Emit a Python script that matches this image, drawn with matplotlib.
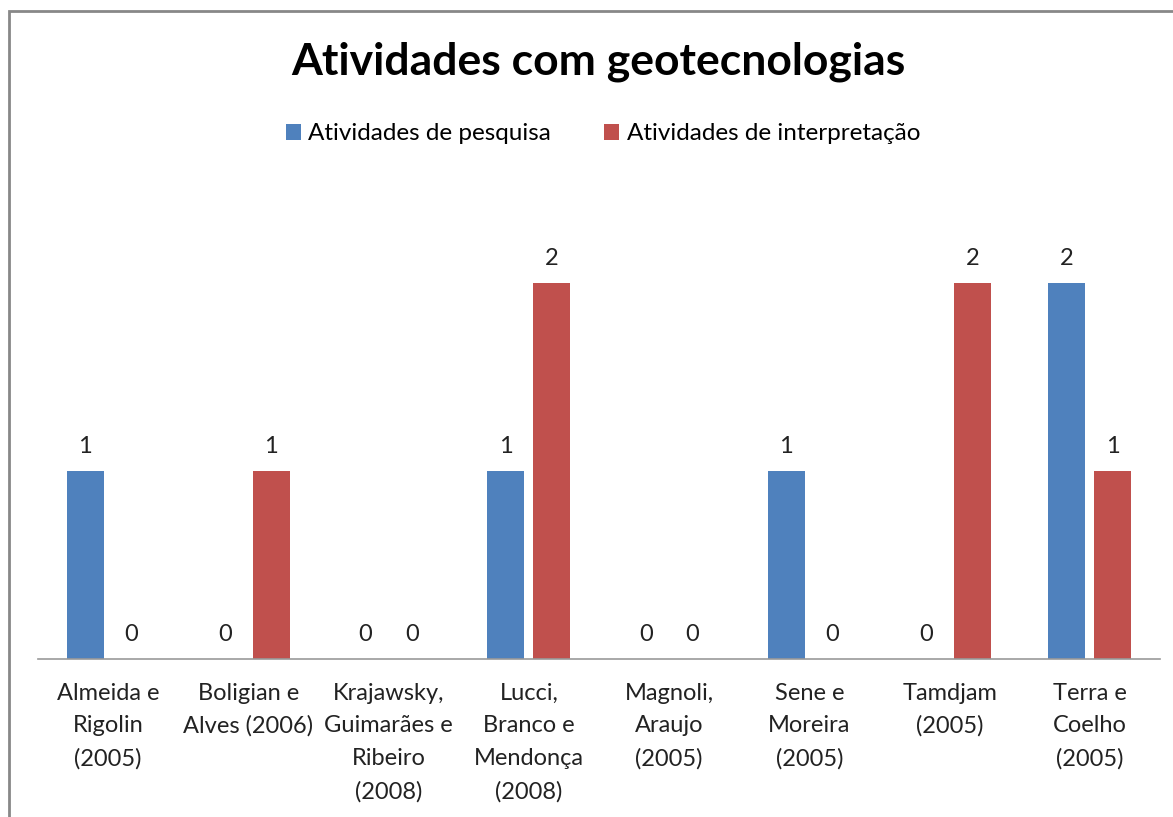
import matplotlib
matplotlib.use("Agg")
import matplotlib.pyplot as plt
import numpy as np
from matplotlib.patches import Rectangle

categories = [
    "Almeida e\nRigolin\n(2005)",
    "Boligian e\nAlves (2006)",
    "Krajawsky,\nGuimarães e\nRibeiro\n(2008)",
    "Lucci,\nBranco e\nMendonça\n(2008)",
    "Magnoli,\nAraujo\n(2005)",
    "Sene e\nMoreira\n(2005)",
    "Tamdjam\n(2005)",
    "Terra e\nCoelho\n(2005)",
]
pesquisa = [1, 0, 0, 1, 0, 1, 0, 2]
interpretacao = [0, 1, 0, 2, 0, 0, 2, 1]

plt.rcParams['font.family'] = ['Lato', 'DejaVu Sans']

fig = plt.figure(figsize=(11.73, 8.17), dpi=100)
ax = fig.add_axes([38 / 1173, 1 - 659 / 817, 1122 / 1173, 470 / 817])

x = np.arange(len(categories))
w = 0.264
off = 0.164
b1 = ax.bar(x - off, pesquisa, w, color='#4F81BD', label='Atividades de pesquisa')
b2 = ax.bar(x + off, interpretacao, w, color='#C0504D', label='Atividades de interpretação')

# rótulos de valor acima das barras
for bars in (b1, b2):
    for r in bars:
        ax.annotate(f"{int(r.get_height())}", (r.get_x() + r.get_width() / 2, r.get_height()),
                    xytext=(0, 10), textcoords='offset points', ha='center', va='bottom',
                    fontsize=17, color='#222222')

ax.set_xlim(-0.5, len(categories) - 0.5)
ax.set_ylim(0, 2.5)
ax.set_xticks(x)
ax.set_xticklabels(categories, fontsize=17, linespacing=1.68, color='#222222')
ax.tick_params(axis='x', length=0, pad=17)
ax.set_yticks([])
for s in ('top', 'right', 'left'):
    ax.spines[s].set_visible(False)
ax.spines['bottom'].set_color('#999999')
ax.spines['bottom'].set_linewidth(1.2)

fig.text(598 / 1173, 1 - 62 / 817, "Atividades com geotecnologias", ha='center', va='center',
         fontsize=32, fontweight='bold')
fig.legend(handles=[b1, b2], loc='center', bbox_to_anchor=(603 / 1173, 1 - 134 / 817),
           ncol=2, frameon=False, fontsize=17.5, handlelength=0.62, handleheight=0.62,
           handletextpad=0.3, columnspacing=2.2)

# moldura do gráfico (cortada à direita e embaixo)
fig.patches.append(Rectangle((9 / 1173, -0.1), 1.2, 1 - 11 / 817 + 0.1, transform=fig.transFigure,
                             fill=False, edgecolor='#888888', linewidth=2))

fig.savefig('out.png', dpi=100)
